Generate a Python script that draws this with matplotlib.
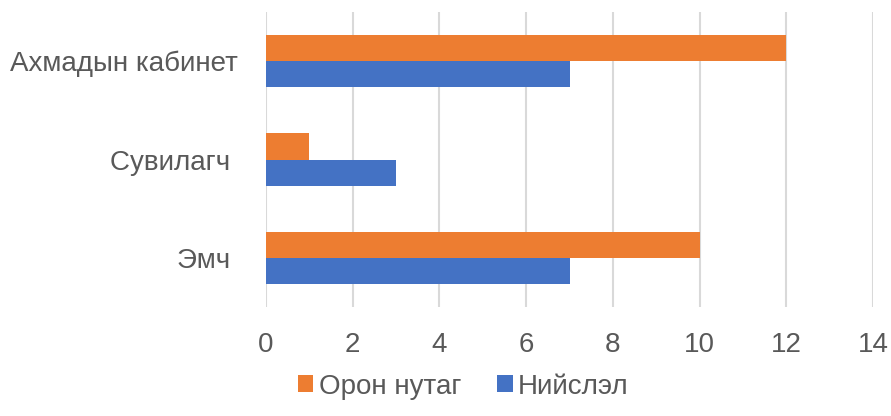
import numpy as np
import matplotlib.pyplot as plt

plt.rcParams['font.family'] = ['Liberation Sans', 'DejaVu Sans']

categories = ['Эмч ', 'Сувилагч ', 'Ахмадын кабинет']
oron_nutag = [10, 1, 12]
niislel = [7, 3, 7]
series_names = ['Орон нутаг', 'Нийслэл']

text_color = '#595959'
orange = '#ED7D31'
blue = '#4472C4'

fig = plt.figure(figsize=(8.91, 4.16), dpi=100)
ax = fig.add_axes([0.2985, 0.262, 0.6815, 0.709])

y = np.arange(len(categories))
h = 0.265
ax.barh(y + h / 2, oron_nutag, height=h, color=orange, label=series_names[0], zorder=3)
ax.barh(y - h / 2, niislel, height=h, color=blue, label=series_names[1], zorder=3)

ax.set_xlim(0, 14)
ax.set_ylim(-0.5, 2.5)
ax.set_xticks(range(0, 15, 2))
ax.set_yticks(y)
ax.set_yticklabels(categories)
ax.grid(axis='x', color='#D9D9D9', linewidth=1.5, zorder=0)
for s in ax.spines.values():
    s.set_visible(False)
ax.tick_params(axis='both', length=0, labelsize=20, labelcolor=text_color)
ax.tick_params(axis='x', pad=18)
ax.tick_params(axis='y', pad=20)

# legend centred under the whole chart
ax.legend(loc='center', bbox_to_anchor=(0.325, -0.27),
          ncol=2, frameon=False, fontsize=20, labelcolor=text_color,
          handlelength=0.55, handleheight=0.55, handletextpad=0.2, columnspacing=1.3)

fig.savefig('out.png', dpi=100)
